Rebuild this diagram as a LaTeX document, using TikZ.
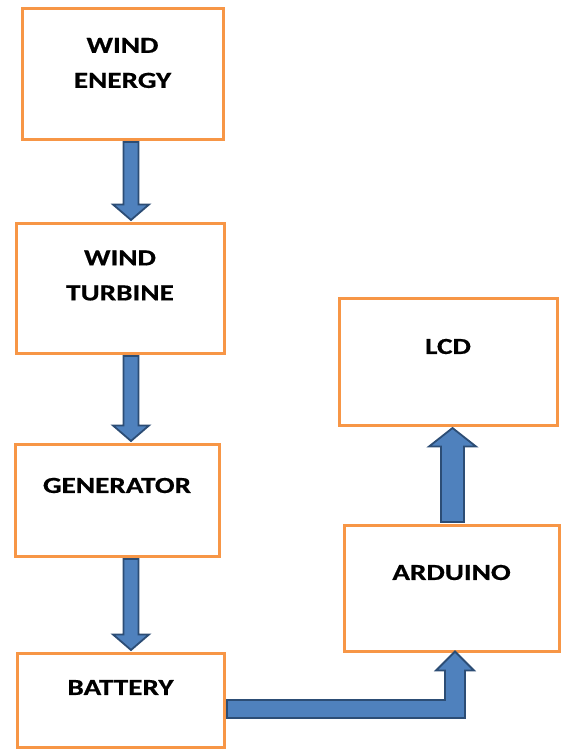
\documentclass[tikz,border=0pt]{standalone}
\usepackage{fontspec}
\setmainfont{Carlito}[FakeStretch=1.27, BoldFeatures={FakeBold=0.6}]
\usepackage{tikz}
\usetikzlibrary{calc}
\definecolor{boxorange}{HTML}{F79646}
\definecolor{arrowblue}{HTML}{4F81BD}
\definecolor{arrowdark}{HTML}{2C4D75}

\begin{document}
\begin{tikzpicture}[x=1pt, y=-1pt,
  box/.style={draw=boxorange, line width=3pt, fill=white, inner sep=0pt},
  lbl/.style={font=\bfseries\fontsize{23}{35}\selectfont, align=center, inner sep=0pt, text=black},
  blockarrow/.style={fill=arrowblue, draw=arrowdark, line width=1.8pt, line join=miter}]
  \useasboundingbox (0,0) rectangle (560,749);
  \node[box, minimum width=201pt, minimum height=130pt] (energy) at (122.5,74) {};
  \node[box, minimum width=208pt, minimum height=130pt] (turbine) at (120,288) {};
  \node[box, minimum width=204pt, minimum height=112pt] (generator) at (117,500) {};
  \node[box, minimum width=207pt, minimum height=94pt] (battery) at (120.5,700) {};
  \node[box, minimum width=215pt, minimum height=126pt] (arduino) at (451.5,588) {};
  \node[box, minimum width=218pt, minimum height=127pt] (lcd) at (448,361.5) {};
  \node[lbl] (energy-txt) at ([yshift=-55.5pt]energy.north) {WIND\\ENERGY};
  \node[lbl] (turbine-txt) at ([yshift=-54pt]turbine.north) {WIND\\TURBINE};
  \node[lbl] (generator-txt) at ([yshift=-43pt]generator.north) {GENERATOR};
  \node[lbl] (battery-txt) at ([yshift=-36pt]battery.north) {BATTERY};
  \node[lbl] (arduino-txt) at ([yshift=-49pt]arduino.north) {ARDUINO};
  \node[lbl] (lcd-txt) at ([yshift=-50pt]lcd.north) {LCD};
  \draw[blockarrow] let \p1=(energy.south), \p2=(turbine.north) in
    (123.5pt,\y1-1.5pt) -- (123.5pt,\y2+17pt) -- (113pt,\y2+17pt) -- (131pt,\y2+1.5pt)
    -- (149pt,\y2+17pt) -- (138.5pt,\y2+17pt) -- (138.5pt,\y1-1.5pt) -- cycle;
  \draw[blockarrow] let \p1=(turbine.south), \p2=(generator.north) in
    (123.5pt,\y1-1.5pt) -- (123.5pt,\y2+17pt) -- (113pt,\y2+17pt) -- (131pt,\y2+1.5pt)
    -- (149pt,\y2+17pt) -- (138.5pt,\y2+17pt) -- (138.5pt,\y1-1.5pt) -- cycle;
  \draw[blockarrow] let \p1=(generator.south), \p2=(battery.north) in
    (123.5pt,\y1-1.5pt) -- (123.5pt,\y2+17pt) -- (113pt,\y2+17pt) -- (131pt,\y2+1.5pt)
    -- (149pt,\y2+17pt) -- (138.5pt,\y2+17pt) -- (138.5pt,\y1-1.5pt) -- cycle;
  \draw[blockarrow] let \p1=(battery.east), \p2=(arduino.south) in
    (\x1+1.5pt,\y1) -- (445pt,\y1) -- (445pt,\y2-18pt) -- (436pt,\y2-18pt) -- (455pt,\y2+1pt)
    -- (474pt,\y2-18pt) -- (465pt,\y2-18pt) -- (465pt,\y1-18pt) -- (\x1+1.5pt,\y1-18pt) -- cycle;
  \draw[blockarrow] let \p1=(arduino.north), \p2=(lcd.south) in
    (441pt,\y1+1.5pt) -- (441pt,\y2-20pt) -- (429pt,\y2-20pt) -- (452.5pt,\y2-1.5pt)
    -- (476pt,\y2-20pt) -- (464pt,\y2-20pt) -- (464pt,\y1+1.5pt) -- cycle;
\end{tikzpicture}
\end{document}
